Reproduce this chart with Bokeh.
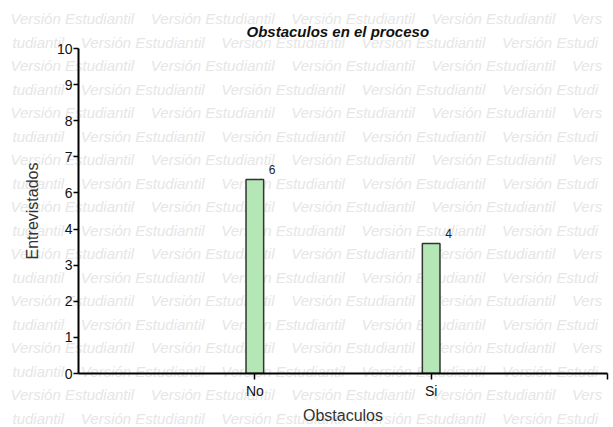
from bokeh.plotting import figure
from bokeh.models import FixedTicker, ColumnDataSource
from bokeh.embed import file_html
from bokeh.resources import INLINE
from bokeh.core.properties import value

# ---- data ----
categories = ["No", "Si"]
cat_positions = [1, 2]
bar_heights = [5.37, 3.6]          # heights as drawn, in axis-step units
bar_labels = ["6", "4"]
y_tick_positions = [0, 1, 2, 3, 4, 5, 6, 7, 8, 9]
y_tick_labels = ["0", "1", "2", "3", "4", "6", "7", "8", "9", "10"]
x_tick_positions = [1, 2, 3]
x_tick_labels = ["No", "Si", ""]
title_text = "Obstaculos en el proceso"
x_title = "Obstaculos"
y_title = "Entrevistados"
watermark_text = "Versión Estudiantil"
watermark_head = "tudiantil"
watermark_tail_odd = "Vers"
watermark_tail_even = "Versión Estudi"

FONT = "Liberation Sans"
W, H = 613, 427

# ---- background watermark layer (pixel coordinates) ----
sep = "\u00a0" * 4
odd_row = sep.join([watermark_text] * 4 + [watermark_tail_odd])
even_row = sep.join([watermark_head] + [watermark_text] * 3 + [watermark_tail_even])
wm_x, wm_y, wm_t = [], [], []
for k in range(18):
    wm_y.append(18 + 23.5 * k)
    if k % 2 == 0:
        wm_x.append(10); wm_t.append(odd_row)
    else:
        wm_x.append(12); wm_t.append(even_row)

bg = figure(width=W, height=H, output_backend="svg", toolbar_location=None,
            x_range=(0, W), y_range=(H, 0), min_border=0)
bg.axis.visible = False
bg.grid.visible = False
bg.outline_line_color = None
bg.background_fill_color = "white"
bg.border_fill_color = "white"
bg.text(x=wm_x, y=wm_y, text=wm_t, text_font=value(FONT), text_font_size="15px",
        text_font_style="italic", text_color="#e6e6e6",
        text_baseline="middle", text_align="left")

# ---- main chart (transparent, laid over the watermark) ----
p = figure(width=W, height=H, output_backend="svg", toolbar_location=None,
           x_range=(0, 3), y_range=(0, 9), title=title_text,
           min_border_left=78, min_border_right=6, min_border_top=48, min_border_bottom=54,
           margin=(-H, 0, 0, 0))

p.outline_line_color = None
p.xgrid.visible = False
p.ygrid.visible = False
p.background_fill_color = None
p.border_fill_color = None

p.title.align = "left"
p.title.offset = 168
p.title.text_font = FONT
p.title.text_font_size = "15px"
p.title.text_font_style = "bold italic"
p.title.text_color = "#111111"
p.title.standoff = 17

src = ColumnDataSource(dict(x=cat_positions, top=bar_heights, lab=bar_labels))
p.vbar(x="x", top="top", width=0.1, bottom=0, source=src,
       fill_color="#b5e6b5", line_color="#333333", line_width=1.5)
p.text(x="x", y="top", text="lab", source=src, x_offset=14, y_offset=-6,
       text_font=value(FONT), text_font_size="12px", text_color="#222222",
       text_align="left", text_baseline="bottom")

for ax in (p.xaxis[0], p.yaxis[0]):
    ax.axis_line_color = "black"
    ax.axis_line_width = 2
    ax.major_tick_line_color = "black"
    ax.major_tick_line_width = 1.5
    ax.major_tick_in = 0
    ax.minor_tick_line_color = None
    ax.major_label_text_font = FONT
    ax.major_label_text_font_size = "14px"
    ax.major_label_text_color = "#111111"
    ax.axis_label_text_font = FONT
    ax.axis_label_text_font_size = "16px"
    ax.axis_label_text_font_style = "normal"
    ax.axis_label_text_color = "#333333"

p.xaxis.ticker = FixedTicker(ticks=x_tick_positions)
p.xaxis.major_label_overrides = dict(zip(x_tick_positions, x_tick_labels))
p.xaxis.major_tick_out = 6
p.xaxis.major_label_standoff = 3
p.xaxis.axis_label = x_title
p.xaxis.axis_label_standoff = 5

p.yaxis.ticker = FixedTicker(ticks=y_tick_positions)
p.yaxis.major_label_overrides = dict(zip(y_tick_positions, y_tick_labels))
p.yaxis.major_tick_out = 5
p.yaxis.major_label_standoff = 1
p.yaxis.axis_label = y_title
p.yaxis.axis_label_standoff = 13

open("out.html", "w").write(file_html([bg, p], INLINE))
